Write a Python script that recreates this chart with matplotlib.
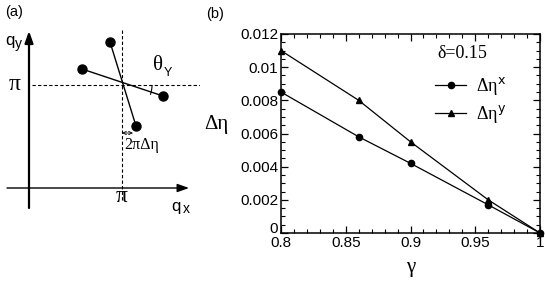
import matplotlib
matplotlib.use("Agg")
import matplotlib.pyplot as plt
from matplotlib.ticker import MultipleLocator, FixedLocator
from matplotlib.patches import Arc
from matplotlib.transforms import ScaledTranslation

# ---------------- data (panel b) ----------------
gamma = [0.8, 0.86, 0.9, 0.96, 1.0]
deta_x = [0.0085, 0.0058, 0.0042, 0.0017, 0.0]
deta_y = [0.0110, 0.0080, 0.0055, 0.0020, 0.0]
xticks = [0.8, 0.85, 0.9, 0.95, 1.0]
xticklabels = ["0.8", "0.85", "0.9", "0.95", "1"]
yticks = [0, 0.002, 0.004, 0.006, 0.008, 0.01, 0.012]
yticklabels = ["0", "0.002", "0.004", "0.006", "0.008", "0.01", "0.012"]

# ---------------- schematic (panel a), in its own pixel-like frame ----------------
pair1_x = [110, 136]   # nearly vertical pair
pair1_y = [42, 126]
pair2_x = [82, 163]    # nearly horizontal pair
pair2_y = [69, 96]
pi_x = 122
pi_y = 85

sans = ["Liberation Sans", "DejaVu Sans"]
serif = ["Liberation Serif", "DejaVu Serif"]
plt.rcParams["font.family"] = sans

fig = plt.figure(figsize=(5.45, 2.81), dpi=100)

# ---------- panel (a) ----------
axa = fig.add_axes([0, 0, 200 / 545, 1])
axa.set_xlim(0, 200)
axa.set_ylim(281, 0)
axa.axis("off")

# axes arrows
axa.annotate("", xy=(29, 31), xytext=(29, 208),
             arrowprops=dict(arrowstyle="-|>,head_length=0.7,head_width=0.25", color="black", lw=1.6, shrinkA=0, shrinkB=0))
axa.annotate("", xy=(189, 188), xytext=(7, 188),
             arrowprops=dict(arrowstyle="-|>,head_length=0.7,head_width=0.25", color="black", lw=1.0, shrinkA=0, shrinkB=0))
# dashed lines at pi
axa.plot([32, 200], [pi_y, pi_y], ls=(0, (3, 2)), color="black", lw=0.8)
axa.plot([pi_x, pi_x], [30, 200], ls=(0, (3, 2)), color="black", lw=0.8)
# pairs
axa.plot(pair1_x, pair1_y, color="black", lw=1.0, marker="o", ms=6.5)
axa.plot(pair2_x, pair2_y, color="black", lw=1.0, marker="o", ms=6.5)
# angle arc
axa.add_patch(Arc((pi_x, pi_y), 60, 60, theta1=0, theta2=19, color="black", lw=0.8))
# small double arrow
axa.annotate("", xy=(122, 133), xytext=(133, 133),
             arrowprops=dict(arrowstyle="<->,head_length=0.25,head_width=0.12", color="black", lw=0.6, shrinkA=0, shrinkB=0))

axa.text(5, 12, "(a)", fontsize=10.5, ha="left", va="center", family=sans)
axa.text(5, 41, "q", fontsize=12, ha="left", va="center", family=sans)
axa.text(15, 44, "y", fontsize=10, ha="left", va="center", family=sans)
axa.text(15, 84, "π", fontsize=17, ha="center", va="center", family=serif)
axa.text(pi_x, 196, "π", fontsize=17, ha="center", va="center", family=serif)
axa.text(171, 206, "q", fontsize=12, ha="left", va="center", family=sans)
axa.text(183, 209, "x", fontsize=10, ha="left", va="center", family=sans)
axa.text(158, 65, "θ", fontsize=15, ha="center", va="center", family=serif)
axa.text(164, 73, "Y", fontsize=9, ha="left", va="center", family=sans)
axa.text(124, 145, "2πΔη", fontsize=11.5, ha="left", va="center", family=serif)

# ---------- panel (b) ----------
ax = fig.add_axes([281 / 545, 1 - 233 / 281, (540 - 281) / 545, (233 - 34) / 281])
ax.plot(gamma, deta_x, color="black", lw=0.9, marker="o", ms=4.5, label="Δη$^{\\mathrm{x}}$")
ax.plot(gamma, deta_y, color="black", lw=0.9, marker="^", ms=4.5, label="Δη$^{\\mathrm{y}}$")
ax.set_xlim(0.8, 1.0)
ax.set_ylim(0, 0.012)
ax.xaxis.set_major_locator(FixedLocator(xticks))
ax.set_xticklabels(xticklabels)
ax.yaxis.set_major_locator(FixedLocator(yticks))
ax.set_yticklabels(yticklabels)
ax.xaxis.set_minor_locator(MultipleLocator(0.01))
ax.yaxis.set_minor_locator(MultipleLocator(0.0005))
ax.tick_params(which="both", direction="in", top=True, right=True, labelsize=11, pad=2)
ax.tick_params(which="major", length=5, width=0.9)
ax.tick_params(which="minor", length=3, width=0.8)
for s in ax.spines.values():
    s.set_linewidth(1.1)
for ln in ax.lines:
    ln.set_clip_on(False)

# nudge the "0" y label up slightly, as in the reference
lab0 = ax.get_yticklabels()[0]
lab0.set_transform(lab0.get_transform() + ScaledTranslation(0, 4 / 72, fig.dpi_scale_trans))

ax.set_xlabel("γ", fontsize=15, family=serif, labelpad=6)
ax.set_ylabel("Δη", fontsize=15, family=serif, rotation=0, labelpad=0)
ax.yaxis.set_label_coords(-0.25, 0.5)
ax.text(-0.29, 1.1, "(b)", transform=ax.transAxes, fontsize=10.5, ha="left", va="center", family=sans)
ax.text(0.605, 0.9, "δ=0.15", transform=ax.transAxes, fontsize=13, ha="left", va="center", family=serif)

leg = ax.legend(loc="upper left", bbox_to_anchor=(0.568, 0.83), frameon=False,
                handlelength=1.7, handletextpad=0.55, labelspacing=0.35,
                prop=dict(family=serif, size=13), borderaxespad=0)

fig.savefig("out.png", dpi=100)
